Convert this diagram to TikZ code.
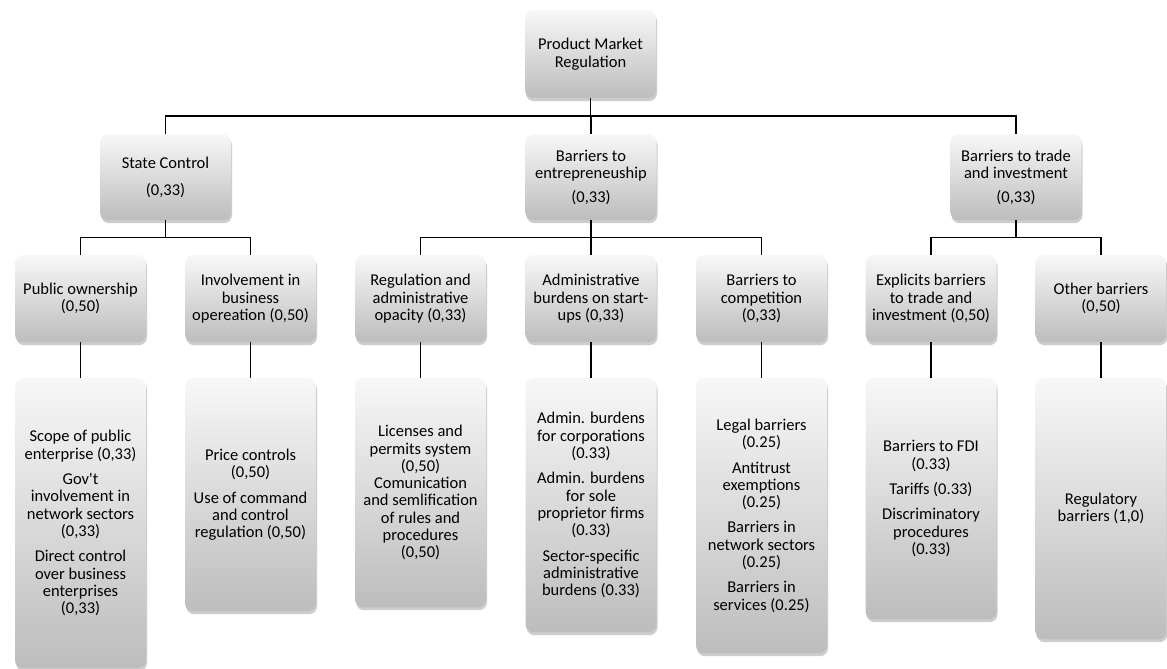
\documentclass[tikz,border=0pt]{standalone}
\usepackage{fontspec}
\setmainfont{Carlito}
\usetikzlibrary{shadows,calc}
\tikzset{
  box/.style={rounded corners=8pt, minimum width=131pt, align=center,
    inner sep=2pt, anchor=north, top color=black!3, bottom color=black!26,
    font=\fontsize{16.5pt}{17.3pt}\selectfont,
    drop shadow={opacity=0.28, shadow xshift=1pt, shadow yshift=-3pt, fill=black!70}},
  conn/.style={line width=1.6pt, black}
}
\begin{document}
\begin{tikzpicture}[x=1pt,y=-1pt]
\useasboundingbox[fill=white] (0,0) rectangle (1167,669);
% root
\node[box, minimum height=88pt] (root) at (590.5,10) {Product Market\\Regulation};
% level 2
\node[box, minimum height=86pt] (sc) at (165.5,134) {State Control\\[10pt](0,33)};
\node[box, minimum height=86pt] (be) at (591,134) {Barriers to\\entrepreneuship\\[6pt](0,33)};
\node[box, minimum height=86pt] (bt) at (1016,134) {Barriers to trade\\and investment\\[6pt](0,33)};
% level 3
\node[box, minimum height=87pt] (po) at (80.5,255) {Public ownership\\(0,50)};
\node[box, minimum height=87pt] (ib) at (250.5,255) {Involvement in\\business\\opereation (0,50)};
\node[box, minimum height=87pt] (ra) at (420.5,255) {Regulation and\\administrative\\opacity (0,33)};
\node[box, minimum height=87pt] (ab) at (591,255) {Administrative\\burdens on start-\\ups (0,33)};
\node[box, minimum height=87pt] (bc) at (761.5,255) {Barriers to\\competition\\(0,33)};
\node[box, minimum height=87pt] (eb) at (931,255) {Explicits barriers\\to trade and\\investment (0,50)};
\node[box, minimum height=87pt] (ob) at (1101,255) {Other barriers\\(0,50)};
% level 4
\node[box, minimum height=290pt] (po4) at (80.5,378) {Scope of public\\enterprise (0,33)\\[8pt]Gov\textquotesingle t\\involvement in\\network sectors\\(0,33)\\[8pt]Direct control\\over business\\enterprises\\(0,33)};
\node[box, minimum height=233pt] (ib4) at (250.5,378) {Price controls\\(0,50)\\[8pt]Use of command\\and control\\regulation (0,50)};
\node[box, minimum height=229pt] (ra4) at (420.5,378) {Licenses and\\permits system\\(0,50)\\Comunication\\and semlification\\of rules and\\procedures\\(0,50)};
\node[box, minimum height=254pt] (ab4) at (591,378) {Admin. burdens\\for corporations\\(0.33)\\[8pt]Admin. burdens\\for sole\\proprietor firms\\(0.33)\\[8pt]Sector-specific\\administrative\\burdens (0.33)};
\node[box, minimum height=275pt] (bc4) at (761.5,378) {Legal barriers\\(0.25)\\[8pt]Antitrust\\exemptions\\(0.25)\\[8pt]Barriers in\\network sectors\\(0.25)\\[8pt]Barriers in\\services (0.25)};
\node[box, minimum height=241pt] (eb4) at (931,378) {Barriers to FDI\\(0.33)\\[8pt]Tariffs (0.33)\\[8pt]Discriminatory\\procedures\\(0.33)};
\node[box, minimum height=261pt] (ob4) at (1101,378) {Regulatory\\barriers (1,0)};
% bus coordinates
\coordinate (busA) at (0,116);
\coordinate (busB) at (0,237.5);
% connectors root -> level 2
\foreach \n in {sc,be,bt} {
  \draw[conn] (root.south) -- (root.south |- busA) -| (\n.north);
}
% level 2 -> level 3
\foreach \n in {po,ib} { \draw[conn] (sc.south) -- (sc.south |- busB) -| (\n.north); }
\foreach \n in {ra,ab,bc} { \draw[conn] (be.south) -- (be.south |- busB) -| (\n.north); }
\foreach \n in {eb,ob} { \draw[conn] (bt.south) -- (bt.south |- busB) -| (\n.north); }
% level 3 -> level 4
\draw[conn] (po.south) -- (po4.north);
\draw[conn] (ib.south) -- (ib4.north);
\draw[conn] (ra.south) -- (ra4.north);
\draw[conn] (ab.south) -- (ab4.north);
\draw[conn] (bc.south) -- (bc4.north);
\draw[conn] (eb.south) -- (eb4.north);
\draw[conn] (ob.south) -- (ob4.north);
\end{tikzpicture}
\end{document}
